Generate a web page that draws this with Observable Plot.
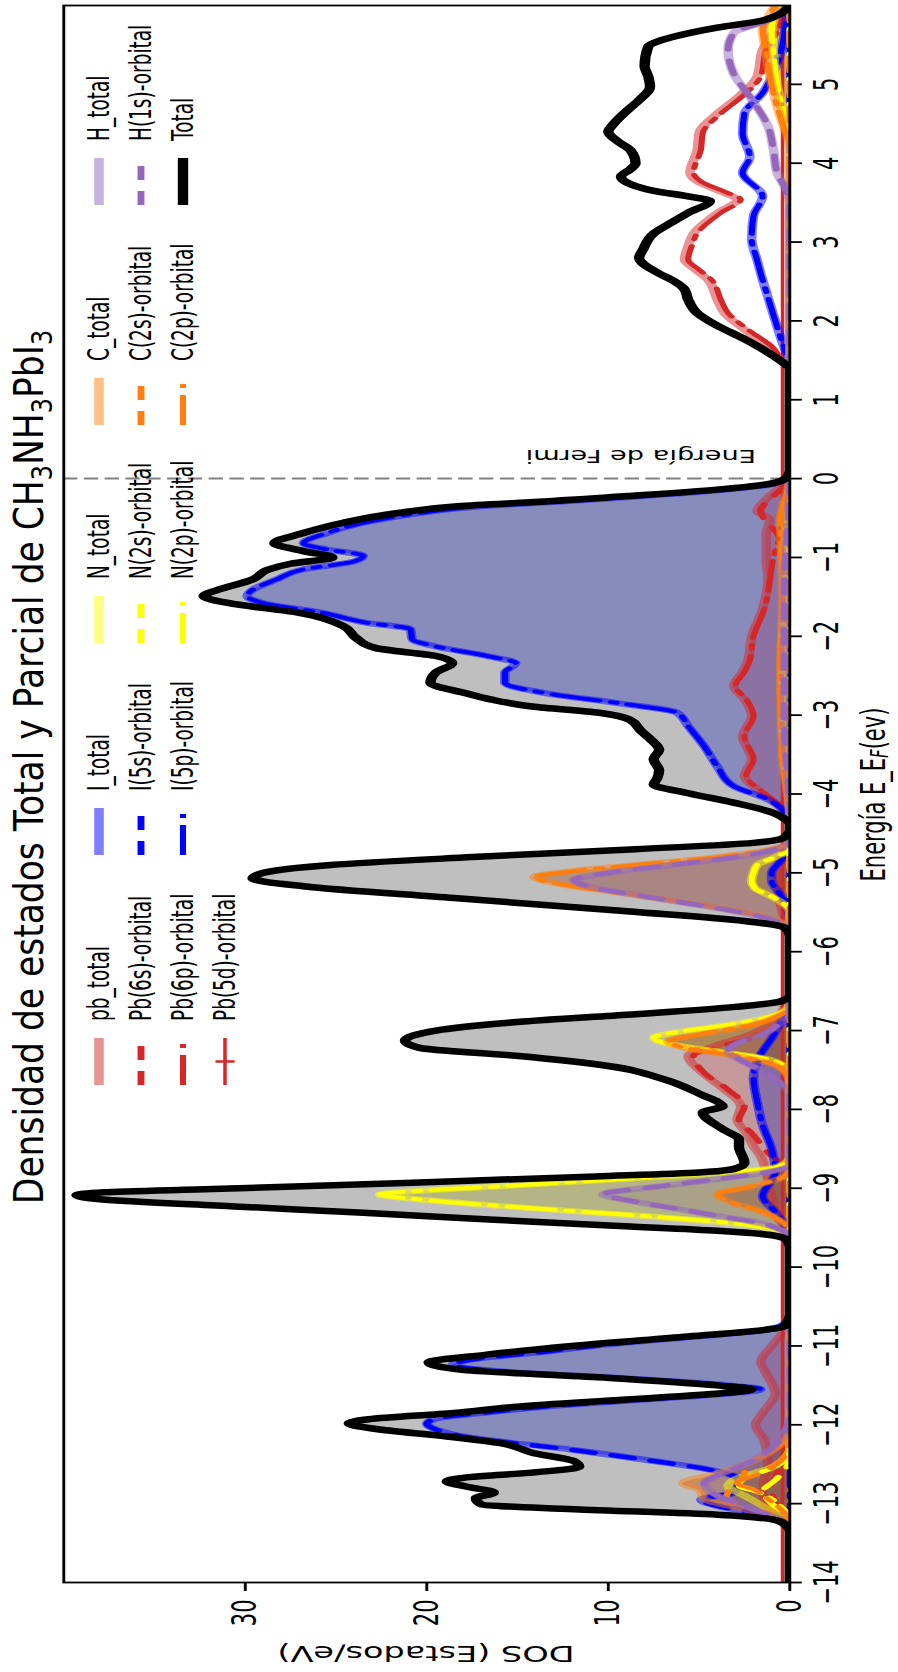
<!DOCTYPE html>
<html><head><meta charset="utf-8">
<script src="https://cdn.jsdelivr.net/npm/d3@7"></script>
<script src="https://cdn.jsdelivr.net/npm/@observablehq/plot@0.6"></script>
<style>
html,body{margin:0;padding:0;background:#fff;width:898px;height:1672px;overflow:hidden}
#box{position:absolute;left:0;top:0;width:1672px;transform-origin:0 0;}
svg{display:block}
</style></head><body><div id="box"></div>
<script>
// ---------------- data (energy in eV, DOS in states/eV) ----------------
const energyTicks = [-14,-13,-12,-11,-10,-9,-8,-7,-6,-5,-4,-3,-2,-1,0,1,2,3,4,5];
const dosTicks = [0,10,20,30];
const fermiLevel = 0;

const total = [[-14,0],[-13.35,0],[-13.28,0.2],[-13.22,0.6],[-13.14,4.0],[-13.07,11.9],[-13.01,17.0],[-12.93,17.3],[-12.86,16.3],[-12.78,17.9],[-12.72,18.9],[-12.66,17.5],[-12.61,14.4],[-12.53,11.6],[-12.46,11.9],[-12.36,14.1],[-12.23,16.0],[-12.14,19.2],[-12.06,22.6],[-11.98,24.3],[-11.93,23.2],[-11.85,18.5],[-11.77,15.0],[-11.68,9.0],[-11.6,3.8],[-11.55,2.1],[-11.5,4.0],[-11.4,10.3],[-11.3,18.2],[-11.21,19.9],[-11.11,16.7],[-11.0,12.0],[-10.88,5.6],[-10.8,1.5],[-10.75,0.3],[-10.6,0],
[-9.75,0],[-9.65,0.2],[-9.59,1.2],[-9.54,4.0],[-9.48,9.4],[-9.40,16.3],[-9.31,23.5],[-9.23,30.6],[-9.14,38.0],[-9.09,39.3],[-9.05,37.8],[-9.01,31.8],[-8.93,20.8],[-8.85,10.7],[-8.8,5.0],[-8.75,3.0],[-8.68,2.5],[-8.47,2.8],[-8.38,2.8],[-8.25,3.7],[-8.04,4.8],[-7.96,3.7],[-7.9,4.0],[-7.83,4.7],[-7.62,6.9],[-7.45,10.0],[-7.32,15.1],[-7.22,20.4],[-7.13,21.2],[-7.0,19.5],[-6.9,15.5],[-6.8,9.0],[-6.7,3.0],[-6.63,0.5],[-6.55,0],
[-5.8,0],[-5.7,0.25],[-5.61,2.5],[-5.49,8.8],[-5.32,18.5],[-5.17,26.8],[-5.07,29.6],[-5.0,29.0],[-4.9,25.3],[-4.8,17.5],[-4.7,8.5],[-4.62,2],[-4.55,0.3],[-4.45,0],
[-4.38,0],[-4.32,0.25],[-4.24,0.9],[-4.11,3.1],[-3.99,5.6],[-3.88,7.5],[-3.8,7.3],[-3.7,7.2],[-3.56,7.5],[-3.44,7.2],[-3.3,7.7],[-3.2,8.2],[-3.06,8.8],[-2.97,10.5],[-2.89,14.2],[-2.8,16.5],[-2.72,17.9],[-2.59,19.8],[-2.46,19.5],[-2.34,18.6],[-2.25,19.5],[-2.15,22.8],[-2.02,23.9],[-1.87,24.6],[-1.7,27.1],[-1.58,30.9],[-1.49,32.3],[-1.41,31.5],[-1.28,29.6],[-1.15,28.7],[-1.08,27.5],[-1.0,25.2],[-0.92,26.8],[-0.82,28.4],[-0.69,26.8],[-0.56,24.6],[-0.44,21.7],[-0.35,18.3],[-0.29,13.5],[-0.22,8.8],[-0.14,4],[-0.08,1.5],[0,0.25],[0.1,0],
[1.4,0],[1.45,0.25],[1.6,1.2],[1.77,2.5],[1.94,4.0],[2.1,5.1],[2.27,5.6],[2.4,5.8],[2.52,6.5],[2.6,7.2],[2.8,8.3],[2.9,8.1],[3.11,7.5],[3.25,6.5],[3.37,5.6],[3.52,4.4],[3.58,5.6],[3.65,7.5],[3.71,8.5],[3.83,9.3],[3.92,8.8],[4.0,8.5],[4.17,8.8],[4.28,9.5],[4.4,10.0],[4.5,9.7],[4.68,8.9],[4.8,8.3],[4.97,7.7],[5.1,7.8],[5.23,8.0],[5.48,7.8],[5.55,7.2],[5.61,6.3],[5.72,4.0],[5.81,1.5],[5.9,0.5],[6,0]];

// Pb
const pbBandLow = [[-13.35,0],[-13.1,1.0],[-12.9,1.5],[-12.7,1.4],[-12.5,1.2],[-12.2,1.4],[-12.0,1.9],[-11.85,1.5],[-11.6,0.8],[-11.35,1.3],[-11.2,1.6],[-11.0,1.0],[-10.8,0.3],[-10.6,0]];
const pbBandMid = [[-9.6,0],[-9.4,0.6],[-9.1,1.0],[-8.8,1.3],[-8.6,1.6],[-8.47,2.0],[-8.3,2.4],[-8.13,2.9],[-7.96,2.7],[-7.75,3.6],[-7.54,4.8],[-7.32,5.6],[-7.2,4.2],[-7.05,2.2],[-6.9,0.9],[-6.7,0.3],[-6.55,0]];
const pbBand5 = [[-5.75,0],[-5.5,0.4],[-5.1,0.7],[-4.8,0.4],[-4.6,0]];
const pbValence = [[-4.38,0],[-4.15,0.6],[-3.99,1.5],[-3.77,2.5],[-3.56,2.1],[-3.27,2.6],[-3.01,2.1],[-2.8,2.5],[-2.63,3.1],[-2.45,2.6],[-2.3,2.3],[-2.0,2.1],[-1.65,1.5],[-1.28,1.2],[-1.0,1.3],[-0.7,1.3],[-0.52,1.1],[-0.41,1.8],[-0.26,1.3],[-0.1,0.5],[0.05,0]];
const pbCB = [[1.4,0],[1.47,0.3],[1.68,1.2],[1.89,2.5],[2.1,3.6],[2.27,4.0],[2.52,4.5],[2.65,5.2],[2.78,5.8],[2.95,5.6],[3.11,5.3],[3.37,4.0],[3.54,2.9],[3.63,3.7],[3.77,5.1],[3.88,5.5],[4.17,5.1],[4.38,5.0],[4.63,4.0],[4.85,2.8],[5.1,1.8],[5.44,1.5],[5.7,0.8],[6,0.4]];
const pbTotal = [[-14,0], ...pbBandLow, ...pbBandMid, ...pbBand5, ...pbValence, ...pbCB];
const pb6s = [[-14,0],[-13.3,0],[-13.0,0.8],[-12.8,1.0],[-12.6,0.7],[-12.3,0.2],[-12.1,0],[-8.8,0],[-8.55,1.2],[-8.3,2.1],[-8.13,2.8],[-7.96,2.5],[-7.75,3.4],[-7.54,4.7],[-7.32,5.3],[-7.2,3.8],[-7.05,1.5],[-6.85,0.3],[-6.7,0],[-1.0,0],[-0.7,0.7],[-0.41,1.6],[-0.2,0.8],[0,0],[6,0]];
const pb6p = [[-14,0],[-4.3,0],[-4.15,0.5],[-3.99,1.4],[-3.77,2.4],[-3.56,2.0],[-3.27,2.5],[-3.01,2.0],[-2.8,2.4],[-2.63,3.0],[-2.45,2.5],[-2.3,2.2],[-2.0,2.0],[-1.65,1.4],[-1.28,1.1],[-1.0,0.9],[-0.7,0.5],[-0.41,0.3],[0,0],[1.45,0],[1.47,0.2],[1.68,1.0],[1.89,2.3],[2.1,3.4],[2.27,3.8],[2.52,4.3],[2.65,5.0],[2.78,5.6],[2.95,5.4],[3.11,5.1],[3.37,3.8],[3.54,2.7],[3.63,3.5],[3.77,4.9],[3.88,5.3],[4.17,4.9],[4.38,4.8],[4.63,3.8],[4.85,2.6],[5.1,1.6],[5.44,1.3],[5.7,0.6],[6,0.2]];
const pb5d = [[-14,0.4],[6,0.4]];

// I
const iBandS = [[-13.35,0],[-13.22,0.3],[-13.14,1.5],[-13.03,4.0],[-12.95,4.9],[-12.86,3.1],[-12.7,2.8],[-12.57,4.4],[-12.45,7.8],[-12.32,11.9],[-12.14,18.2],[-12.06,19.5],[-11.99,20.0],[-11.92,19.5],[-11.85,17],[-11.77,13.5],[-11.68,8],[-11.6,3.2],[-11.55,1.6],[-11.5,3.4],[-11.42,8.5],[-11.33,15.5],[-11.24,18.6],[-11.17,17.5],[-11.08,13.8],[-10.98,10],[-10.88,5.2],[-10.8,1.4],[-10.72,0.3],[-10.6,0]];
const iBandP = [[-9.65,0],[-9.5,0.2],[-9.3,0.8],[-9.1,1.5],[-8.8,0.8],[-8.5,1.0],[-8.2,1.5],[-7.9,1.8],[-7.6,2.0],[-7.3,1.6],[-7.1,1.0],[-6.9,0.5],[-6.7,0],[-5.6,0],[-5.4,0.2],[-5.25,0.6],[-5.1,1.0],[-5.0,1.0],[-4.85,0.5],[-4.7,0],[-4.4,0],[-4.24,0.25],[-4.07,1.2],[-3.9,3.1],[-3.65,4.0],[-3.4,4.7],[-3.14,5.6],[-2.97,6.2],[-2.85,9.4],[-2.72,13.5],[-2.59,15.7],[-2.46,15.7],[-2.34,15.1],[-2.25,16.7],[-2.13,19.5],[-2.04,20.8],[-1.91,20.9],[-1.83,23.3],[-1.70,25.8],[-1.58,29],[-1.49,29.9],[-1.41,29.6],[-1.28,28.3],[-1.15,26.8],[-1.05,24],[-0.98,23.5],[-0.9,25.5],[-0.82,26.8],[-0.69,25.5],[-0.56,23.5],[-0.44,20.5],[-0.35,17],[-0.29,12.5],[-0.22,8],[-0.14,3.5],[-0.08,1.2],[0,0.2],[0.1,0],[1.5,0],[1.6,0.2],[2.0,0.8],[2.3,1.2],[2.52,1.5],[2.77,1.8],[3.04,2.1],[3.33,2.0],[3.58,1.5],[3.88,2.6],[4.08,2.2],[4.38,2.6],[4.63,2.5],[4.89,1.5],[5.2,0.8],[5.5,0.4],[5.8,0.2],[6,0.1]];
const iTotal = [[-14,0], ...iBandS, ...iBandP];
const i5s = [[-14,0], ...iBandS, [6,0]];
const i5p = [[-14,0], ...iBandP];

// N
const nBandLow = [[-13.3,0],[-13.2,0.3],[-13.03,1.5],[-12.9,2.5],[-12.78,3.4],[-12.7,3.1],[-12.53,0.9],[-12.4,0.2],[-12.3,0]];
const nBand9 = [[-9.6,0],[-9.52,0.8],[-9.44,3.3],[-9.35,8.2],[-9.23,15.6],[-9.14,20.5],[-9.08,22.6],[-9.02,19.5],[-8.97,15.5],[-8.87,8.4],[-8.8,3.5],[-8.76,1.5],[-8.7,0.4],[-8.6,0]];
const nBand7 = [[-7.55,0],[-7.45,0.3],[-7.35,1.5],[-7.25,4.5],[-7.15,7.0],[-7.09,7.5],[-7.03,6.5],[-6.95,4],[-6.85,1.5],[-6.75,0.3],[-6.65,0]];
const nBand5 = [[-5.5,0],[-5.4,0.3],[-5.3,1.0],[-5.2,1.9],[-5.1,2.1],[-5.0,2.0],[-4.9,1.8],[-4.8,0.8],[-4.7,0]];
const nVal = [[-4.2,0],[-3.5,0.3],[-2.5,0.4],[-1.5,0.3],[-0.5,0.2],[0,0]];
const nCB = [[4.3,0],[4.6,0.3],[5.0,0.7],[5.4,0.9],[5.7,1.0],[6,0.6]];
const nTotal = [[-14,0], ...nBandLow, ...nBand9, ...nBand7, ...nBand5, ...nVal, ...nCB];
const n2s = [[-14,0],[-13.2,0],[-13.0,1.0],[-12.85,1.5],[-12.7,0.8],[-12.5,0.1],[-12.3,0],[6,0]];
const n2p = [[-14,0],[-13.2,0],[-13.03,0.5],[-12.85,1.8],[-12.78,2.8],[-12.7,2.6],[-12.53,0.8],[-12.4,0], ...nBand9, ...nBand7, ...nBand5, ...nVal, ...nCB];

// C
const cBandLow = [[-13.3,0],[-13.25,0.2],[-13.07,2.5],[-12.94,4.7],[-12.82,5.0],[-12.74,5.9],[-12.62,4.0],[-12.53,2.8],[-12.36,1.2],[-12.2,0.3],[-12.0,0]];
const cBand9 = [[-9.55,0],[-9.45,0.3],[-9.3,1.5],[-9.18,3.2],[-9.08,4.0],[-8.97,2.0],[-8.85,0.3],[-8.75,0]];
const cBand7 = [[-7.65,0],[-7.55,0.2],[-7.42,1.0],[-7.32,3.0],[-7.22,5.8],[-7.14,6.7],[-7.05,5.0],[-6.95,2.5],[-6.8,0.5],[-6.7,0]];
const cBand5 = [[-5.75,0],[-5.65,0.3],[-5.55,1.5],[-5.45,3.8],[-5.35,6.5],[-5.25,9.5],[-5.15,12.5],[-5.05,14.1],[-5.0,12.8],[-4.9,8.5],[-4.8,4.0],[-4.7,1.0],[-4.6,0]];
const cVal = [[-4.3,0],[-3.5,0.4],[-2.5,0.5],[-1.5,0.4],[-0.5,0.5],[0,0]];
const cCB = [[4.2,0],[4.5,0.4],[4.8,0.8],[5.1,1.1],[5.4,1.3],[5.7,1.5],[5.85,1.2],[6,0.8]];
const cTotal = [[-14,0], ...cBandLow, ...cBand9, ...cBand7, ...cBand5, ...cVal, ...cCB];
const c2s = [[-14,0],[-13.3,0],[-13.2,0.3],[-13.07,2.0],[-12.94,3.5],[-12.74,3.0],[-12.6,1.5],[-12.4,0.3],[-12.2,0],[6,0]];
const c2p = [[-14,0],[-13.2,0],[-13.07,0.5],[-12.94,1.2],[-12.82,2.0],[-12.74,2.9],[-12.62,2.5],[-12.53,2.5],[-12.36,1.2],[-12.2,0.3],[-12.0,0], ...cBand9, ...cBand7, ...cBand5, ...cVal, ...cCB];

// H
const hBandLow = [[-13.3,0],[-13.25,0.2],[-13.03,2.5],[-12.9,4.0],[-12.74,4.7],[-12.6,3.5],[-12.45,2.0],[-12.3,1.0],[-12.1,0.3],[-11.9,0]];
const hBand9 = [[-9.6,0],[-9.55,0.3],[-9.45,1.5],[-9.35,4],[-9.25,6.5],[-9.15,9],[-9.08,10.3],[-8.97,7],[-8.87,3.5],[-8.76,0.5],[-8.7,0]];
const hBand7 = [[-7.8,0],[-7.7,0.4],[-7.55,1.2],[-7.4,2.5],[-7.26,3.4],[-7.15,2.8],[-7.05,1.5],[-6.9,0.5],[-6.8,0]];
const hBand5 = [[-5.75,0],[-5.68,0.2],[-5.58,1.2],[-5.48,3.2],[-5.38,5.8],[-5.28,8.5],[-5.18,11],[-5.09,11.9],[-5.0,10],[-4.9,6.5],[-4.8,3],[-4.7,0.8],[-4.6,0]];
const hVal = [[-4.3,0],[-3,0.3],[-1.5,0.3],[0,0]];
const hCB = [[3.5,0],[3.66,0.2],[3.88,0.7],[4.17,0.9],[4.47,1.2],[4.81,2.1],[5.14,3.1],[5.44,3.4],[5.65,3.1],[5.81,1.2],[5.95,0.3],[6,0.2]];
const hTotal = [[-14,0], ...hBandLow, ...hBand9, ...hBand7, ...hBand5, ...hVal, ...hCB];
const h1s = hTotal;

const legendColumns = [
  ["pb_total","Pb(6s)-orbital","Pb(6p)-orbital","Pb(5d)-orbital"],
  ["I_total","I(5s)-orbital","I(5p)-orbital"],
  ["N_total","N(2s)-orbital","N(2p)-orbital"],
  ["C_total","C(2s)-orbital","C(2p)-orbital"],
  ["H_total","H(1s)-orbital","Total"]
];

// ---------------- styles ----------------
const RED="#d62728", BLUE="#0000ff", YEL="#ffff00", ORA="#ff7f0e", PUR="#9467bd";
const DASH="14,11", DASHDOT="30,7,4,7";
const styles = {
  "pb_total":{data:pbTotal,c:RED,w:6,d:null,o:0.5},
  "Pb(6s)-orbital":{data:pb6s,c:RED,w:4.3,d:DASH,o:1},
  "Pb(6p)-orbital":{data:pb6p,c:RED,w:3.8,d:DASHDOT,o:1},
  "Pb(5d)-orbital":{data:pb5d,c:RED,w:2.2,d:null,o:1,marker:true},
  "I_total":{data:iTotal,c:BLUE,w:6,d:null,o:0.5},
  "I(5s)-orbital":{data:i5s,c:BLUE,w:4.3,d:DASH,o:1},
  "I(5p)-orbital":{data:i5p,c:BLUE,w:3.8,d:DASHDOT,o:1},
  "N_total":{data:nTotal,c:YEL,w:6,d:null,o:0.5},
  "N(2s)-orbital":{data:n2s,c:YEL,w:4.3,d:DASH,o:1},
  "N(2p)-orbital":{data:n2p,c:YEL,w:3.8,d:DASHDOT,o:1},
  "C_total":{data:cTotal,c:ORA,w:6,d:null,o:0.5},
  "C(2s)-orbital":{data:c2s,c:ORA,w:4.3,d:DASH,o:1},
  "C(2p)-orbital":{data:c2p,c:ORA,w:3.8,d:DASHDOT,o:1},
  "H_total":{data:hTotal,c:PUR,w:6,d:null,o:0.5},
  "H(1s)-orbital":{data:h1s,c:PUR,w:4.3,d:DASH,o:1},
  "Total":{data:total,c:"#000",w:6.5,d:null,o:1}
};

const k = 1.6;               // vertical stretch of the reference picture
const W = 1672, H = 898 / k;
const X = d => d[0], Y = d => d[1];
const occupied = data => data.filter(d => d[0] <= fermiLevel + 0.1);   // filled below the Fermi level only
const fmt = d => d < 0 ? "\u2212" + (-d) : String(d);
const area = (data, fill, op) => Plot.areaY(data, {x: X, y: Y, fill, fillOpacity: op, curve: "monotone-x", clip: true});
const lineOf = name => { const s = styles[name]; return Plot.lineY(s.data, {x: X, y: Y, stroke: s.c, strokeOpacity: s.o, strokeWidth: s.w, strokeDasharray: s.d, curve: "monotone-x", clip: true, strokeLinejoin: "round"}); };

const order = legendColumns.flat().filter(n => n !== "Total").concat(["Total"]);

const chart = Plot.plot({
  width: W, height: H,
  marginLeft: 89, marginRight: 6, marginTop: 63 / k, marginBottom: 109 / k,
  style: {fontFamily: "DejaVu Sans", fontSize: "21px", color: "#000", background: "transparent", overflow: "visible"},
  x: {domain: [-14, 6]},
  y: {domain: [0, 40]},
  marks: [
    area(occupied(total), "#bfbfbf", 1),
    area(occupied(pbTotal), RED, 0.25),
    area(occupied(iTotal), "#0a16b9", 0.3),
    area(nTotal, "#9a9a00", 0.3),
    area(cTotal, "#a0400a", 0.35),
    area(occupied(hTotal), "#6a3d9a", 0.15),
    Plot.ruleX([fermiLevel], {stroke: "#808080", strokeWidth: 2, strokeDasharray: "9,4"}),
    ...order.map(lineOf),
    Plot.axisX(energyTicks, {anchor: "bottom", tickSize: 8, tickPadding: 7, tickFormat: fmt, strokeWidth: 1.8, label: null, fontSize: 21}),
    Plot.axisY(dosTicks, {anchor: "left", tickSize: 8, tickPadding: 9, strokeWidth: 1.8, label: null, fontSize: 21}),
    Plot.frame({stroke: "#000", strokeWidth: 1.8})
  ]
});

const box = document.getElementById("box");
box.style.height = H + "px";
box.style.transform = `translate(0px, 1672px) rotate(-90deg) scale(1, ${k})`;
box.appendChild(chart);

// ---------------- text & legend added to the same svg ----------------
const svg = d3.select(chart);
const ff = "DejaVu Sans";
// title
const tg = svg.append("g").attr("transform", `translate(905, 27) scale(1, 0.75)`);
const title = tg.append("text").attr("x", 0).attr("y", 0).attr("text-anchor", "middle")
  .attr("font-family", ff).attr("font-size", 34.5).attr("fill", "#000");
[["Densidad de estados Total y Parcial de CH",0],["3",1],["NH",0],["3",1],["PbI",0],["3",1]].forEach(([t, sub], i) => {
  const ts = title.append("tspan").text(t);
  if (sub) ts.attr("font-size", 24).attr("dy", 7); else if (i > 0) ts.attr("dy", -7);
});
// x label
const xl = svg.append("text").attr("x", 877.5).attr("y", 545.6).attr("text-anchor", "middle")
  .attr("dominant-baseline", "central").attr("font-family", ff).attr("font-size", 21);
xl.append("tspan").text("Energía E_E");
xl.append("tspan").text("F").attr("font-size", 15).attr("dy", 4).attr("font-style", "italic");
xl.append("tspan").text("(ev)").attr("dy", -4);
// y label
svg.append("text").attr("transform", `translate(19, ${(63 / k + 789 / k) / 2}) rotate(-90)`)
  .attr("text-anchor", "middle").attr("dominant-baseline", "central")
  .attr("font-family", ff).attr("font-size", 21).text("DOS (Estados/eV)");
// Fermi
svg.append("text").attr("transform", `translate(1222, ${756 / k}) rotate(-90)`)
  .attr("text-anchor", "start").attr("font-family", ff).attr("font-size", 17).text("Energía de Fermi");

// legend
const colX = [587, 817, 1029, 1247, 1467];
const rowY = [99 / k, 141 / k, 183 / k, 225 / k];
const L = svg.append("g");
legendColumns.forEach((col, ci) => {
  col.forEach((name, ri) => {
    const s = styles[name];
    const x0 = colX[ci], x1 = x0 + 47, y = rowY[ri];
    L.append("line").attr("x1", x0).attr("x2", x1).attr("y1", y).attr("y2", y)
      .attr("stroke", s.c).attr("stroke-opacity", s.o).attr("stroke-width", s.w)
      .attr("stroke-dasharray", s.d);
    if (s.marker) L.append("line").attr("x1", (x0 + x1) / 2).attr("x2", (x0 + x1) / 2)
      .attr("y1", y - 6).attr("y2", y + 6).attr("stroke", s.c).attr("stroke-width", 2.5);
    L.append("text").attr("x", x1 + 17).attr("y", y).attr("text-anchor", "start").attr("dominant-baseline", "central")
      .attr("font-family", ff).attr("font-size", 18.5).attr("fill", "#000").text(name);
  });
});
</script></body></html>
